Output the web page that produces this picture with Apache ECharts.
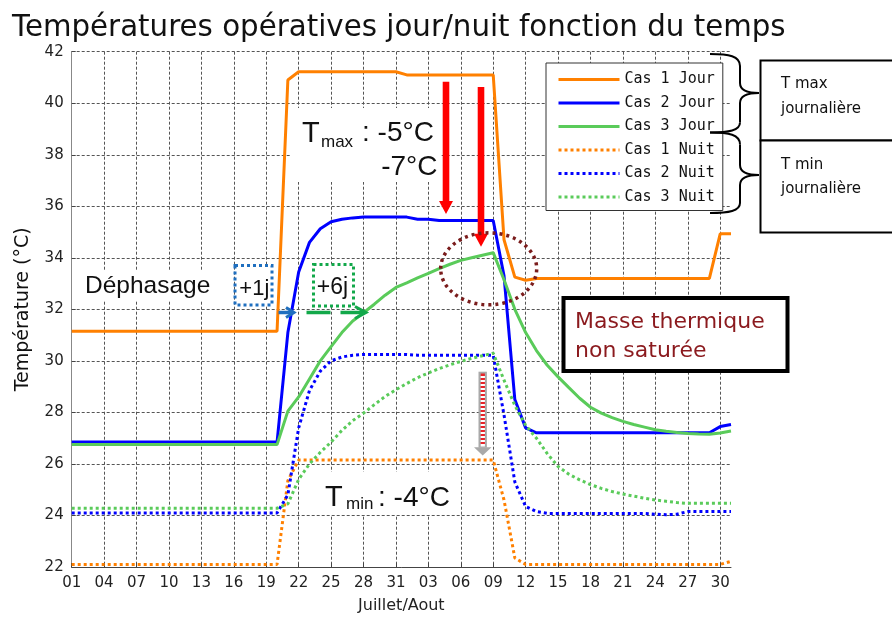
<!DOCTYPE html>
<html>
<head>
<meta charset="utf-8">
<script src="https://cdn.jsdelivr.net/npm/echarts@6/dist/echarts.min.js"></script>
<style>html,body{margin:0;padding:0;background:#fff}#chart{width:892px;height:619px}</style>
</head>
<body>
<div id="chart"></div>
<script>
// jours du 1er juillet au 31 aout
const dates = [
  '01/07','02/07','03/07','04/07','05/07','06/07','07/07','08/07','09/07','10/07',
  '11/07','12/07','13/07','14/07','15/07','16/07','17/07','18/07','19/07','20/07',
  '21/07','22/07','23/07','24/07','25/07','26/07','27/07','28/07','29/07','30/07','31/07',
  '01/08','02/08','03/08','04/08','05/08','06/08','07/08','08/08','09/08','10/08',
  '11/08','12/08','13/08','14/08','15/08','16/08','17/08','18/08','19/08','20/08',
  '21/08','22/08','23/08','24/08','25/08','26/08','27/08','28/08','29/08','30/08','31/08'
];
const yTicks = [22, 24, 26, 28, 30, 32, 34, 36, 38, 40, 42];

// T max journalière
const cas1Jour = [
  31.15,31.15,31.15,31.15,31.15,31.15,31.15,31.15,31.15,31.15,
  31.15,31.15,31.15,31.15,31.15,31.15,31.15,31.15,31.15,31.15,
  40.9,41.22,41.22,41.22,41.22,41.22,41.22,41.22,41.22,41.22,41.22,
  41.1,41.1,41.1,41.1,41.1,41.1,41.1,41.1,41.1,
  34.7,33.25,33.13,
  33.2,33.2,33.2,33.2,33.2,33.2,33.2,33.2,33.2,33.2,33.2,33.2,33.2,33.2,33.2,33.2,33.2,
  34.93,34.93
];
const cas2Jour = [
  26.85,26.85,26.85,26.85,26.85,26.85,26.85,26.85,26.85,26.85,
  26.85,26.85,26.85,26.85,26.85,26.85,26.85,26.85,26.85,26.85,
  31.1,33.45,34.6,35.13,35.4,35.5,35.55,
  35.58,35.58,35.58,35.58,35.58,
  35.5,35.5,
  35.45,35.45,35.45,35.45,35.45,35.45,
  33.3,28.5,27.4,
  27.21,27.21,27.21,27.21,27.21,27.21,27.21,27.21,27.21,27.21,27.21,27.21,27.21,27.21,27.21,27.21,27.21,
  27.45,27.53
];
const cas3Jour = [
  26.75,26.75,26.75,26.75,26.75,26.75,26.75,26.75,26.75,26.75,
  26.75,26.75,26.75,26.75,26.75,26.75,26.75,26.75,26.75,26.75,
  28.05,28.6,29.3,30.0,30.55,31.1,31.55,31.87,32.2,32.55,
  32.85,33.03,33.22,33.4,33.58,33.75,33.9,34.0,34.1,34.2,
  33.15,32.0,31.1,30.4,29.83,29.38,28.96,28.55,28.2,27.97,
  27.8,27.65,27.53,27.43,27.33,27.27,27.22,27.18,27.16,27.15,
  27.2,27.28
];
// T min journalière
const cas1Nuit = [
  22.1,22.1,22.1,22.1,22.1,22.1,22.1,22.1,22.1,22.1,
  22.1,22.1,22.1,22.1,22.1,22.1,22.1,22.1,22.1,22.1,
  25.35,
  26.15,26.15,26.15,26.15,26.15,26.15,26.15,26.15,26.15,26.15,
  26.15,26.15,26.15,26.15,26.15,26.15,26.15,26.15,26.15,
  24.6,22.35,
  22.1,22.1,22.1,22.1,22.1,22.1,22.1,22.1,22.1,22.1,
  22.1,22.1,22.1,22.1,22.1,22.1,22.1,22.1,22.1,
  22.22
];
const cas2Nuit = [
  24.1,24.1,24.1,24.1,24.1,24.1,24.1,24.1,24.1,24.1,
  24.1,24.1,24.1,24.1,24.1,24.1,24.1,24.1,24.1,24.1,
  24.8,27.4,28.85,29.6,30.0,30.15,30.22,
  30.25,30.25,30.25,30.25,30.25,
  30.22,30.22,30.22,30.22,30.22,30.22,30.22,30.22,
  27.9,25.3,24.35,24.15,
  24.08,24.08,24.08,24.08,24.08,24.08,24.08,24.08,24.08,24.08,
  24.05,24.03,24.05,
  24.15,24.15,24.15,24.15,24.15
];
const cas3Nuit = [
  24.28,24.28,24.28,24.28,24.28,24.28,24.28,24.28,24.28,24.28,
  24.28,24.28,24.28,24.28,24.28,24.28,24.28,24.28,24.28,24.28,
  24.45,25.4,26.0,26.45,26.85,27.3,27.68,27.97,28.3,28.62,
  28.88,29.12,29.35,29.53,29.7,29.85,29.98,30.1,30.2,30.3,
  29.25,28.27,27.5,27.0,26.4,25.9,25.6,25.38,25.2,25.05,
  24.93,24.83,24.75,24.67,24.6,24.55,24.5,24.47,24.47,24.47,
  24.47,24.47
];

const FONT = 'DejaVu Sans';
const ARIAL = 'Liberation Sans';
const ORANGE = '#ff8000', BLUE = '#0000ff', GREEN = '#5acb5a';
const DARKRED = '#8b1a1e';

const chart = echarts.init(document.getElementById('chart'));

function mkLine(name, data, color, dotted) {
  return {
    name, type: 'line', data, symbol: 'none', animation: false,
    lineStyle: { color, width: 3, type: dotted ? [3, 3] : 'solid', cap: 'butt' },
    itemStyle: { color },
    emphasis: { disabled: true }
  };
}

// petites aides pour les annotations
function txt(text, x, y, size, family, color, align) {
  return { type: 'text', x, y, z: 30, silent: true,
    style: { text, fontSize: size, fontFamily: family, fill: color || '#111',
      align: align || 'left', verticalAlign: 'middle' } };
}
function whiteBox(x, y, w, h) {
  return { type: 'rect', z: 1, silent: true, shape: { x, y, width: w, height: h },
    style: { fill: '#fff' } };
}
function downArrow(cx, top, tip, sh, hh, hl, fill) {
  return { type: 'polygon', z: 30, silent: true,
    shape: { points: [[cx - sh, top], [cx + sh, top], [cx + sh, tip - hl], [cx + hh, tip - hl],
      [cx, tip], [cx - hh, tip - hl], [cx - sh, tip - hl]] },
    style: { fill } };
}
const braceStyle = { fill: 'none', stroke: '#000', lineWidth: 2 };
function bez(x1, y1, cpx1, cpy1, cpx2, cpy2, x2, y2) {
  return { type: 'bezierCurve', z: 30, silent: true,
    shape: { x1, y1, cpx1, cpy1, cpx2, cpy2, x2, y2 }, style: braceStyle };
}
function seg(x1, y1, x2, y2) {
  return { type: 'line', z: 30, silent: true, shape: { x1, y1, x2, y2 }, style: braceStyle };
}
// accolade: haut, pointe, bas
function brace(top, mid, bot) {
  return [
    bez(710, top, 729, top, 740, top + 2, 740, top + 12),
    seg(740, top + 12, 740, mid - 10),
    bez(740, mid - 10, 740, mid - 3, 747, mid, 759, mid),
    bez(759, mid, 747, mid, 740, mid + 3, 740, mid + 10),
    seg(740, mid + 10, 740, bot - 10),
    bez(740, bot - 10, 740, bot - 2, 729, bot, 710, bot)
  ];
}

// rayures rouge/blanc de la petite flèche grise
const stripeStops = [];
for (let i = 0; i < 36; i++) {
  const c = i % 2 ? '#ffffff' : '#e8242a';
  stripeStops.push({ offset: i / 36, color: c }, { offset: (i + 1) / 36, color: c });
}

const graphics = [
  // fonds blancs des textes
  whiteBox(80, 271, 136, 30),
  whiteBox(290, 108, 151, 74),
  whiteBox(318, 472, 138, 43),
  // Tmax
  txt('T', 302, 133.6, 29, ARIAL),
  txt('max', 321, 142.6, 17, ARIAL),
  txt(': -5°C', 362, 133.6, 28, ARIAL),
  txt('-7°C', 437.5, 167, 28, ARIAL, '#111', 'right'),
  // Tmin
  txt('T', 325, 498, 29, ARIAL),
  txt('min', 346, 504.7, 17, ARIAL),
  txt(': -4°C', 378, 498, 28, ARIAL),
  // fleches rouges
  downArrow(446, 81.7, 214, 3.3, 7, 13, '#ff0000'),
  downArrow(481, 87, 246.7, 3.3, 7, 13, '#ff0000'),
  // ellipse pointillée
  { type: 'ellipse', z: 30, silent: true, shape: { cx: 488.7, cy: 268.8, rx: 48, ry: 36 },
    style: { fill: 'none', stroke: '#7a1c1c', lineWidth: 3.5, lineDash: [3, 4] } },
  // Déphasage
  txt('Déphasage', 85, 286, 24.5, ARIAL),
  { type: 'rect', z: 30, silent: true, shape: { x: 235, y: 265.5, width: 37, height: 39.5 },
    style: { fill: '#fff', stroke: '#1f6fbf', lineWidth: 3, lineDash: [3, 3] } },
  txt('+1j', 254.3, 289.2, 22, ARIAL, '#111', 'center'),
  { type: 'rect', z: 30, silent: true, shape: { x: 313.5, y: 264.5, width: 40, height: 41.5 },
    style: { fill: '#fff', stroke: '#12a84a', lineWidth: 3, lineDash: [3, 3] } },
  txt('+6j', 332.5, 288, 23, ARIAL, '#111', 'center'),
  // fleche bleue +1j
  { type: 'line', z: 30, silent: true, shape: { x1: 278.5, y1: 312.5, x2: 293, y2: 312.5 },
    style: { stroke: '#1f6fbf', lineWidth: 3.5 } },
  { type: 'polyline', z: 30, silent: true, shape: { points: [[286, 307.5], [294, 312.5], [286, 317.5]] },
    style: { stroke: '#1f6fbf', lineWidth: 3, fill: 'none' } },
  // fleche verte +6j
  { type: 'line', z: 30, silent: true, shape: { x1: 306.5, y1: 312.5, x2: 365, y2: 312.5 },
    style: { stroke: '#12a84a', lineWidth: 3.5, lineDash: [24, 10] } },
  { type: 'polyline', z: 30, silent: true, shape: { points: [[355, 306.5], [366, 312.5], [355, 318.5]] },
    style: { stroke: '#12a84a', lineWidth: 3, fill: 'none' } },
  // petite fleche grise rayée
  { type: 'rect', z: 30, silent: true, shape: { x: 478.5, y: 371.7, width: 8.4, height: 76 },
    style: { fill: '#a9a9a9' } },
  { type: 'rect', z: 31, silent: true, shape: { x: 480.7, y: 373.5, width: 4.2, height: 73 },
    style: { fill: new echarts.graphic.LinearGradient(0, 0, 0, 1, stripeStops) } },
  { type: 'polygon', z: 30, silent: true,
    shape: { points: [[474, 447.3], [491.5, 447.3], [482.7, 455.5]] }, style: { fill: '#a9a9a9' } },
  // Masse thermique non saturée
  { type: 'rect', z: 30, silent: true, shape: { x: 563.5, y: 298, width: 224, height: 73 },
    style: { fill: '#fff', stroke: '#000', lineWidth: 4 } },
  txt('Masse thermique', 575, 321.8, 22, FONT, DARKRED),
  txt('non saturée', 575, 351.2, 22, FONT, DARKRED),
  // accolades
  ...brace(54, 93, 132.5),
  ...brace(132.5, 175, 213),
  // cadres T max / T min
  { type: 'rect', z: 30, silent: true, shape: { x: 760.5, y: 60.5, width: 150, height: 80 },
    style: { fill: '#fff', stroke: '#000', lineWidth: 2 } },
  { type: 'rect', z: 30, silent: true, shape: { x: 760.5, y: 140.5, width: 150, height: 92 },
    style: { fill: '#fff', stroke: '#000', lineWidth: 2 } },
  txt('T max', 781, 83.8, 15, FONT),
  txt('journalière', 781, 108.8, 15, FONT),
  txt('T min', 781, 165.5, 15, FONT),
  txt('journalière', 781, 188.8, 15, FONT)
];

chart.setOption({
  backgroundColor: '#fff',
  animation: false,
  title: {
    text: 'Températures opératives jour/nuit fonction du temps',
    left: 12, top: 14, padding: 0,
    textStyle: { fontFamily: FONT, fontSize: 29.3, fontWeight: 'normal', color: '#111' }
  },
  legend: {
    orient: 'vertical', left: 546, top: 63,
    itemWidth: 61, itemHeight: 14, itemGap: 8.5,
    padding: [9, 8, 6, 11],
    backgroundColor: '#fff', borderColor: '#333', borderWidth: 1,
    selectedMode: false,
    itemStyle: { opacity: 0 },
    lineStyle: { width: 3 },
    textStyle: { fontFamily: 'DejaVu Sans Mono', fontSize: 15, color: '#111' },
    data: ['Cas 1 Jour', 'Cas 2 Jour', 'Cas 3 Jour', 'Cas 1 Nuit', 'Cas 2 Nuit', 'Cas 3 Nuit']
  },
  grid: { left: 71.7, right: 161, top: 51.7, bottom: 48, containLabel: false },
  xAxis: {
    type: 'category', data: dates, boundaryGap: false,
    name: 'Juillet/Aout', nameLocation: 'middle', nameGap: 31,
    nameTextStyle: { fontFamily: FONT, fontSize: 16, color: '#222' },
    axisLine: { lineStyle: { color: '#444', width: 1 } },
    axisTick: { inside: true, length: 4, interval: 2, lineStyle: { color: '#444' } },
    axisLabel: { interval: 2, margin: 9, fontFamily: FONT, fontSize: 15, color: '#222',
      formatter: v => v.slice(0, 2) },
    splitLine: { show: true, interval: 2, lineStyle: { color: '#555', width: 1, type: [3, 2] } }
  },
  yAxis: {
    type: 'value', min: yTicks[0], max: yTicks[yTicks.length - 1], interval: 2,
    name: 'Température (°C)', nameLocation: 'middle', nameGap: 39,
    nameTextStyle: { fontFamily: FONT, fontSize: 19, color: '#111' },
    axisLine: { show: true, lineStyle: { color: '#888', width: 1 } },
    axisTick: { show: true, inside: true, length: 4, lineStyle: { color: '#444' } },
    axisLabel: { margin: 8, fontFamily: FONT, fontSize: 15, color: '#222' },
    splitLine: { show: true, lineStyle: { color: '#555', width: 1, type: [3, 2] } }
  },
  series: [
    mkLine('Cas 1 Jour', cas1Jour, ORANGE, false),
    mkLine('Cas 2 Jour', cas2Jour, BLUE, false),
    mkLine('Cas 3 Jour', cas3Jour, GREEN, false),
    mkLine('Cas 1 Nuit', cas1Nuit, ORANGE, true),
    mkLine('Cas 2 Nuit', cas2Nuit, BLUE, true),
    mkLine('Cas 3 Nuit', cas3Nuit, GREEN, true)
  ],
  graphic: graphics
});
</script>
</body>
</html>
